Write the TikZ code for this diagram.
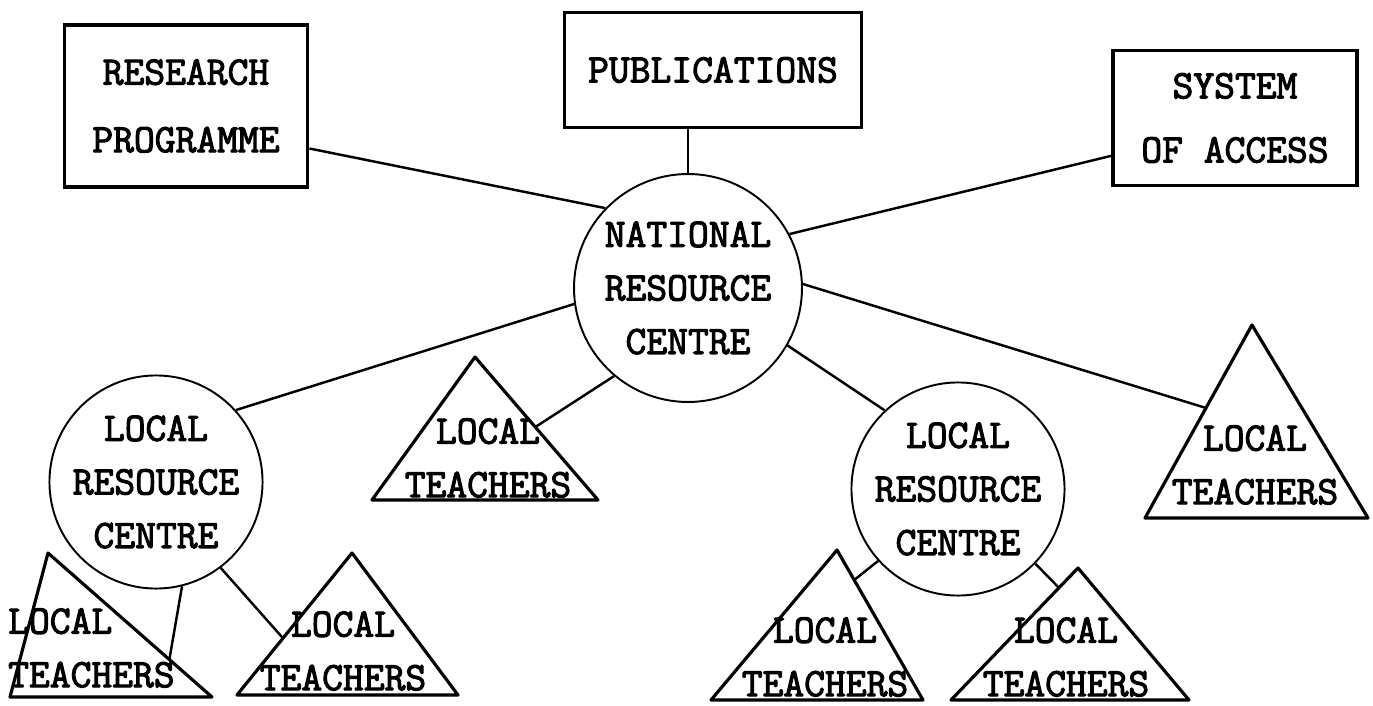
\documentclass[tikz,border=0pt]{standalone}
\usepackage{fontspec}
\newfontfamily\typedfont{Latin Modern Mono}[FakeBold=2.6]
\usepackage{tikz}
\usetikzlibrary{calc, positioning}

\tikzset{
  typed/.style = {font={\typedfont\fontsize{23}{30.5}\selectfont}, align=center},
  box/.style = {typed, draw, rectangle, line width=2.2pt},
  centre/.style = {typed, draw, circle, inner sep=0pt, line width=1.1pt},
  tri/.style = {draw, line width=1.8pt, line join=round},
  link/.style = {draw, line width=1.4pt}
}

\begin{document}
\begin{tikzpicture}[x=0.02cm, y=-0.02cm]
  \useasboundingbox (0,0) rectangle (1373,706);

  % top row
  \node[box, minimum width=4.86cm, minimum height=3.24cm] (research) at (186,106) {RESEARCH\\[8pt]PROGRAMME};
  \node[box, minimum width=5.94cm, minimum height=2.3cm] (pub) at (713,70) {PUBLICATIONS};
  \node[box, minimum width=4.88cm, minimum height=2.7cm] (access) at (1235,118) {SYSTEM\\[6pt]OF ACCESS};

  % resource centres
  \node[centre, minimum size=4.56cm] (nrc) at (688,288) {NATIONAL\\RESOURCE\\CENTRE};
  \node[centre, minimum size=4cm] (lrcwest) at (156,482) {LOCAL\\RESOURCE\\CENTRE};
  \node[centre, minimum size=4.04cm] (lrceast) at (958,489) {LOCAL\\RESOURCE\\CENTRE};

  % local teachers
  \draw[tri] (48,553) coordinate (t1a) -- (10,697) coordinate (t1l) -- (212,697) coordinate (t1r) -- cycle;
  \node[typed, align=left, anchor=west] (t1) at (2,648) {LOCAL\\TEACHERS};
  \draw[tri] (352,553) coordinate (t2a) -- (237,695) coordinate (t2l) -- (458,695) coordinate (t2r) -- cycle;
  \node[typed] (t2) at (343,651) {LOCAL\\TEACHERS};
  \draw[tri] (475,357) coordinate (t3a) -- (372,500) coordinate (t3l) -- (598,500) coordinate (t3r) -- cycle;
  \node[typed] (t3) at (488,458) {LOCAL\\TEACHERS};
  \draw[tri] (837,550) coordinate (t4a) -- (711,700) coordinate (t4l) -- (923,700) coordinate (t4r) -- cycle;
  \node[typed] (t4) at (825,657) {LOCAL\\TEACHERS};
  \draw[tri] (1252,325) coordinate (t5a) -- (1145,518) coordinate (t5l) -- (1368,518) coordinate (t5r) -- cycle;
  \node[typed] (t5) at (1255,465) {LOCAL\\TEACHERS};
  \draw[tri] (1078,568) coordinate (t6a) -- (951,700) coordinate (t6l) -- (1189,700) coordinate (t6r) -- cycle;
  \node[typed] (t6) at (1066,657) {LOCAL\\TEACHERS};

  % where the links meet the triangles
  \coordinate (t1in) at ($(t1a)!.74!(t1r)$);
  \coordinate (t2in) at ($(t2a)!.6!(t2l)$);
  \coordinate (t3in) at ($(t3a)!.49!(t3r)$);
  \coordinate (t4in) at ($(t4a)!.2!(t4r)$);
  \coordinate (t5in) at ($(t5a)!.43!(t5l)$);
  \coordinate (t6in) at ($(t6a)!.15!(t6l)$);

  % links
  \draw[link] (research.-19) -- (nrc.136);
  \draw[link] (nrc.north) -- (nrc.north |- pub.south);
  \draw[link] (access.197) -- (nrc.28);
  \draw[link] (nrc.2) -- (t5in);
  \draw[link] (nrc.-30) -- (lrceast.133);
  \draw[link] (nrc.230) -- (t3in);
  \draw[link] (nrc.188) -- (lrcwest.42);
  \draw[link] (lrcwest.-76) -- (t1in);
  \draw[link] (lrcwest.-53) -- (t2in);
  \draw[link] (lrceast.222) -- (t4in);
  \draw[link] (lrceast.-44) -- (t6in);
\end{tikzpicture}
\end{document}
